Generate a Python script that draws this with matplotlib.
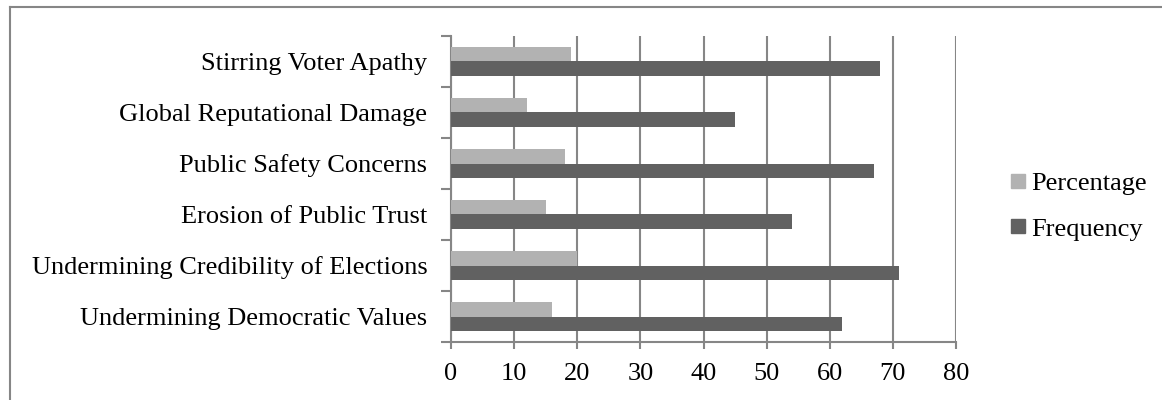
import numpy as np
import matplotlib.pyplot as plt
from matplotlib.lines import Line2D

# Categories listed bottom to top
CATEGORIES = [
    "Undermining Democratic Values",
    "Undermining Credibility of Elections",
    "Erosion of Public Trust",
    "Public Safety Concerns",
    "Global Reputational Damage",
    "Stirring Voter Apathy",
]
FREQUENCY = [62, 71, 54, 67, 45, 68]
PERCENTAGE = [16, 20, 15, 18, 12, 19]
X_TICKS = [0, 10, 20, 30, 40, 50, 60, 70, 80]

GRID = '#868686'
LIGHT = '#b2b2b2'
DARK = '#616161'
FS = 19

plt.rcParams['font.family'] = ['Liberation Serif', 'DejaVu Serif']

fig = plt.figure(figsize=(11.62, 4.0), dpi=100)
ax = fig.add_axes([451 / 1162, 1 - 342 / 400, 505 / 1162, 306 / 400])

y = np.arange(len(CATEGORIES))
h = 0.275
ax.barh(y + h / 2, PERCENTAGE, height=h, color=LIGHT, label='Percentage', zorder=3)
ax.barh(y - h / 2, FREQUENCY, height=h, color=DARK, label='Frequency', zorder=3)

ax.set_xlim(0, 80)
ax.set_ylim(-0.5, len(CATEGORIES) - 0.5)
ax.set_xticks(X_TICKS)
ax.set_xticklabels([str(t) for t in X_TICKS], fontsize=FS)
ax.tick_params(axis='x', length=5, width=1.5, color=GRID, pad=10)

# category boundaries carry the tick marks, names sit at the centres
ax.set_yticks(np.arange(-0.5, len(CATEGORIES), 1.0))
ax.set_yticklabels([])
ax.tick_params(axis='y', which='major', length=7, width=1.5, color=GRID)
ax.set_yticks(y, minor=True)
ax.set_yticklabels(CATEGORIES, minor=True, fontsize=FS)
ax.tick_params(axis='y', which='minor', length=0, pad=17)

ax.grid(axis='x', color=GRID, linewidth=1.5, zorder=0)
for side in ['top', 'right']:
    ax.spines[side].set_visible(False)
for side in ['left', 'bottom']:
    ax.spines[side].set_color(GRID)
    ax.spines[side].set_linewidth(1.5)

handles = [
    Line2D([], [], marker='s', linestyle='none', markersize=10,
           markerfacecolor=LIGHT, markeredgecolor=LIGHT, label='Percentage'),
    Line2D([], [], marker='s', linestyle='none', markersize=10,
           markerfacecolor=DARK, markeredgecolor=DARK, label='Frequency'),
]
fig.legend(handles=handles, loc='center left', bbox_to_anchor=(992 / 1162, 1 - 206 / 400),
           frameon=False, fontsize=FS, handletextpad=0.0, labelspacing=0.85,
           handlelength=1.0, borderpad=0)

# outer chart frame (runs off the right and bottom edges)
fig.add_artist(Line2D([10 / 1162, 1.0], [1 - 7 / 400, 1 - 7 / 400],
                      transform=fig.transFigure, color=GRID, linewidth=1.5))
fig.add_artist(Line2D([10 / 1162, 10 / 1162], [0.0, 1 - 7 / 400],
                      transform=fig.transFigure, color=GRID, linewidth=1.5))

fig.savefig('out.png', dpi=100)
